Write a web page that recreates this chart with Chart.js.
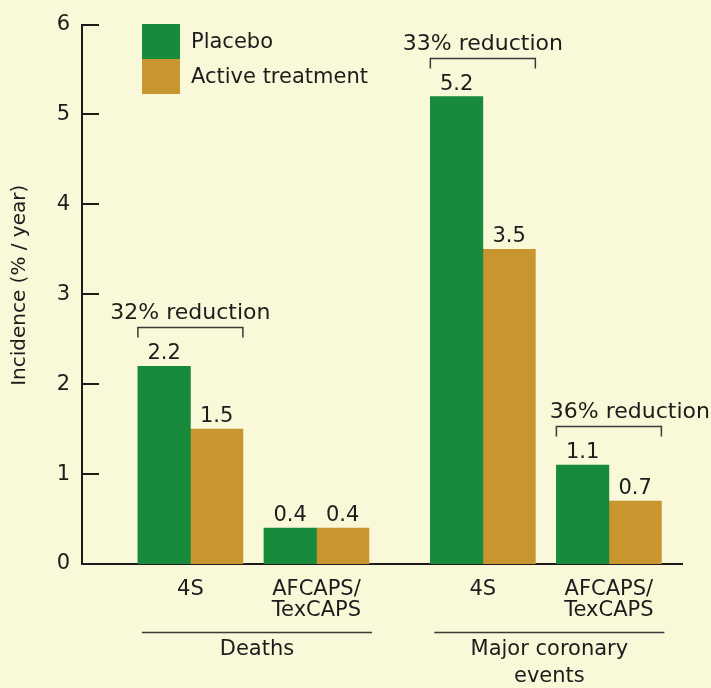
<!DOCTYPE html>
<html>
<head>
<meta charset="utf-8">
<script src="https://cdn.jsdelivr.net/npm/chart.js@4.4.1/dist/chart.umd.min.js"></script>
<style>
  html, body { margin: 0; padding: 0; background: #f9f8d8; }
  #wrap { width: 711px; height: 688px; }
</style>
</head>
<body>
<div id="wrap"><canvas id="chart" width="711" height="688"></canvas></div>
<script>
// Data
const studies = ['4S', ['AFCAPS/', 'TexCAPS'], '4S', ['AFCAPS/', 'TexCAPS']];
const placebo = [2.2, 0.4, 5.2, 1.1];
const active = [1.5, 0.4, 3.5, 0.7];
const reductions = ['32% reduction', null, '33% reduction', '36% reduction'];
const outcomes = [
  { label: ['Deaths'], first: 0, last: 1 },
  { label: ['Major coronary', 'events'], first: 2, last: 3 }
];
const yTitle = 'Incidence (% / year)';

// Layout: where each study group sits on the x axis (axis runs 0..4.76)
const groupPos = [0.86, 1.86, 3.18, 4.18];
// the last reduction label is pushed right, off its bracket centre
const reductionShift = [0, 0, 0, 21];

const INK = '#1c1c1c';
const GREEN = '#188a3c';
const TAN = '#c8952f';
const FONT = "'DejaVu Sans', sans-serif";

Chart.defaults.font.family = FONT;
Chart.defaults.font.size = 21;
Chart.defaults.color = INK;

const annotate = {
  id: 'annotate',
  afterDatasetsDraw(chart) {
    const ctx = chart.ctx;
    const area = chart.chartArea;
    const yScale = chart.scales.y;
    const green = chart.getDatasetMeta(0).data;
    const tan = chart.getDatasetMeta(1).data;

    ctx.save();

    // tick marks on the inside of the y axis
    ctx.strokeStyle = INK;
    ctx.lineWidth = 2;
    yScale.ticks.forEach(t => {
      const y = Math.round(yScale.getPixelForValue(t.value));
      ctx.beginPath();
      ctx.moveTo(area.left, y);
      ctx.lineTo(area.left + 17, y);
      ctx.stroke();
    });

    // y axis title, sitting a little above the axis middle
    ctx.save();
    ctx.translate(20, (area.top + area.bottom) / 2 - 9);
    ctx.rotate(-Math.PI / 2);
    ctx.font = '20px ' + FONT;
    ctx.fillStyle = INK;
    ctx.textAlign = 'center';
    ctx.textBaseline = 'middle';
    ctx.fillText(yTitle, 0, 0);
    ctx.restore();

    // value labels above bars
    ctx.font = '21px ' + FONT;
    ctx.fillStyle = INK;
    ctx.textAlign = 'center';
    ctx.textBaseline = 'alphabetic';
    chart.data.datasets.forEach((ds, di) => {
      chart.getDatasetMeta(di).data.forEach((bar, i) => {
        ctx.fillText(ds.data[i].y.toFixed(1), bar.x, bar.y - 7);
      });
    });

    // reduction brackets
    ctx.strokeStyle = '#3a3a3a';
    ctx.lineWidth = 1.5;
    ctx.font = '22px ' + FONT;
    reductions.forEach((txt, i) => {
      if (!txt) return;
      const left = green[i].x - green[i].width / 2;
      const right = tan[i].x + tan[i].width / 2;
      const top = Math.round(green[i].y - 39) + 0.5;
      ctx.beginPath();
      ctx.moveTo(left, top + 10);
      ctx.lineTo(left, top);
      ctx.lineTo(right, top);
      ctx.lineTo(right, top + 10);
      ctx.stroke();
      ctx.fillText(txt, (left + right) / 2 + reductionShift[i], top - 9);
    });

    // outcome group lines and labels
    ctx.font = '21px ' + FONT;
    outcomes.forEach(g => {
      const left = green[g.first].x - green[g.first].width / 2 + 4;
      const right = tan[g.last].x + tan[g.last].width / 2 + 3;
      const y = Math.round(area.bottom + 68) + 0.5;
      ctx.beginPath();
      ctx.moveTo(left, y);
      ctx.lineTo(right, y);
      ctx.stroke();
      g.label.forEach((line, k) => {
        ctx.fillText(line, (left + right) / 2, area.bottom + 91 + k * 27);
      });
    });

    // legend: stacked swatches
    const lx = 142, ly = 24, bw = 38, bh = 35;
    ctx.textAlign = 'left';
    ctx.textBaseline = 'middle';
    chart.data.datasets.forEach((ds, di) => {
      ctx.fillStyle = ds.backgroundColor;
      ctx.fillRect(lx, ly + di * bh, bw, bh);
      ctx.fillStyle = INK;
      ctx.fillText(ds.label, lx + bw + 11, ly + di * bh + bh / 2 + 1);
    });

    ctx.restore();
  }
};

new Chart(document.getElementById('chart'), {
  type: 'bar',
  data: {
    datasets: [
      {
        label: 'Placebo',
        data: placebo.map((v, i) => ({ x: groupPos[i], y: v })),
        backgroundColor: GREEN
      },
      {
        label: 'Active treatment',
        data: active.map((v, i) => ({ x: groupPos[i], y: v })),
        backgroundColor: TAN
      }
    ]
  },
  options: {
    responsive: false,
    animation: false,
    barThickness: 52.5,
    layout: { padding: { top: 12, right: 29, left: 0, bottom: 0 } },
    plugins: {
      legend: { display: false },
      tooltip: { enabled: false }
    },
    scales: {
      x: {
        type: 'linear',
        offset: false,
        min: 0,
        max: 4.76,
        grid: { display: false },
        border: { color: INK, width: 2 },
        afterBuildTicks: s => { s.ticks = groupPos.map(v => ({ value: v })); },
        ticks: {
          callback: (v, i) => studies[i],
          font: { size: 21, lineHeight: 1 },
          color: INK,
          padding: 7,
          maxRotation: 0,
          autoSkip: false
        },
        afterFit: s => { s.height = 124; }
      },
      y: {
        min: 0,
        max: 6,
        grid: { display: false, drawTicks: false },
        border: { color: INK, width: 2 },
        ticks: { stepSize: 1, padding: 12, color: INK, font: { size: 21 } },
        afterFit: s => { s.width = 82; }
      }
    }
  },
  plugins: [annotate]
});
</script>
</body>
</html>
